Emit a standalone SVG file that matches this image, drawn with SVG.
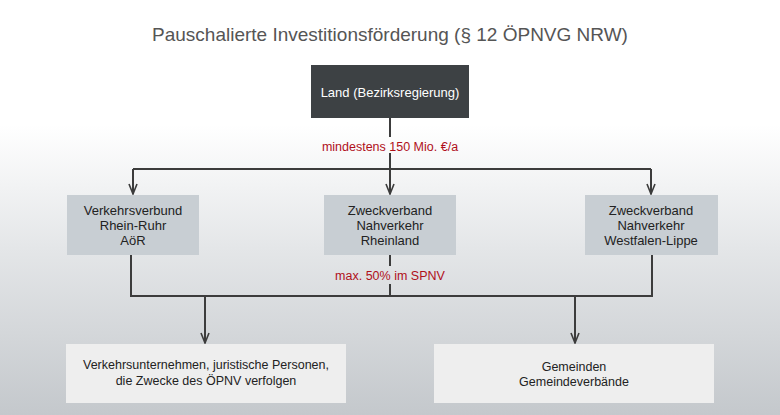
<svg xmlns="http://www.w3.org/2000/svg" width="780" height="415" viewBox="0 0 780 415">
<defs>
<linearGradient id="bg" x1="0" y1="0" x2="0" y2="1">
<stop offset="0" stop-color="#ffffff"/><stop offset="0.3" stop-color="#ffffff"/><stop offset="0.6" stop-color="#e4e6e8"/><stop offset="1" stop-color="#c4c8cc"/>
</linearGradient>
<marker id="ar" viewBox="0 0 12 10" refX="11" refY="5" markerWidth="12" markerHeight="10" markerUnits="userSpaceOnUse" orient="auto"><path d="M1,1 L11,5 L1,9" fill="none" stroke="#3c3c3c" stroke-width="1.6"/></marker>
<style>
text{font-family:"Liberation Sans",Arial,sans-serif;text-anchor:middle}
.t{font-size:13px;fill:#222}
.r{font-size:12.5px;fill:#b0101a}
.mid{fill:#c8ced3}
.low{fill:#eeeeee}
.c{fill:none;stroke:#3c3c3c;stroke-width:2}
</style>
</defs>
<rect width="780" height="415" fill="url(#bg)"/>
<text x="390" y="41" style="font-size:19px;fill:#555">Pauschalierte Investitionsförderung (§ 12 ÖPNVG NRW)</text>
<g id="connectors">
<path class="c" d="M390,118 V137 M390,153 V194" marker-end="url(#ar)"/>
<path class="c" d="M133,169 H651"/>
<path class="c" d="M133,169 V194" marker-end="url(#ar)"/>
<path class="c" d="M651,169 V194" marker-end="url(#ar)"/>
<path class="c" d="M390,255 V266 M390,284 V296 M131,255 V296 H652 V255"/>
<path class="c" d="M205,296 V343" marker-end="url(#ar)"/>
<path class="c" d="M575,296 V343" marker-end="url(#ar)"/>
<text class="r" x="390" y="151">mindestens 150 Mio. €/a</text>
<text class="r" x="390" y="280">max. 50% im SPNV</text>
</g>
<g id="land"><rect x="311" y="65" width="158" height="53" fill="#3d4144"/><text x="390" y="97" style="font-size:13px;fill:#fff">Land (Bezirksregierung)</text></g>
<g id="vrr"><rect class="mid" x="67" y="195" width="132" height="60"/><text class="t" x="133" y="215">Verkehrsverbund</text><text class="t" x="133" y="230">Rhein-Ruhr</text><text class="t" x="133" y="245">AöR</text></g>
<g id="nvr"><rect class="mid" x="324" y="195" width="132" height="60"/><text class="t" x="390" y="215">Zweckverband</text><text class="t" x="390" y="230">Nahverkehr</text><text class="t" x="390" y="245">Rheinland</text></g>
<g id="nwl"><rect class="mid" x="585" y="195" width="133" height="60"/><text class="t" x="651" y="215">Zweckverband</text><text class="t" x="651" y="230">Nahverkehr</text><text class="t" x="651" y="245">Westfalen-Lippe</text></g>
<g id="vu"><rect class="low" x="66" y="344" width="280" height="59"/><text class="t" x="206" y="369" style="font-size:12.5px">Verkehrsunternehmen, juristische Personen,</text><text class="t" x="206" y="385" style="font-size:12.5px">die Zwecke des ÖPNV verfolgen</text></g>
<g id="gem"><rect class="low" x="434" y="344" width="280" height="59"/><text class="t" x="574" y="371" style="font-size:12.5px">Gemeinden</text><text class="t" x="574" y="386" style="font-size:12.5px">Gemeindeverbände</text></g>
</svg>
